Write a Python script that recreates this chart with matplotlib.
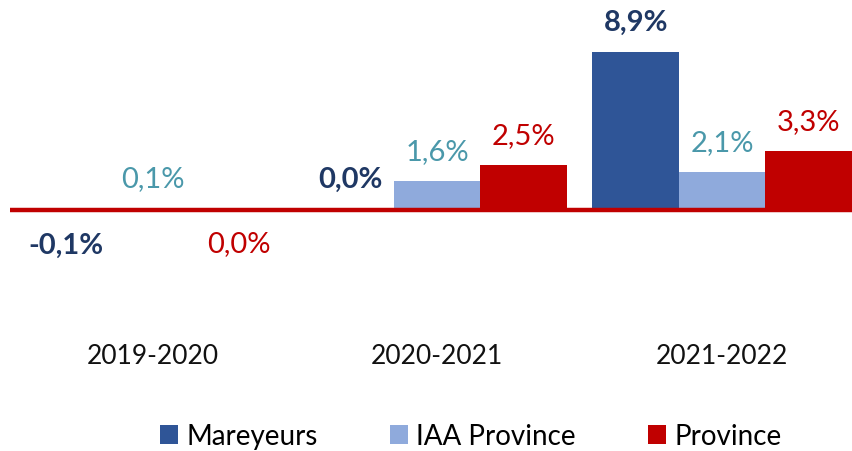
import matplotlib

matplotlib.use("Agg")
import matplotlib.pyplot as plt

plt.rcParams["font.family"] = ["Lato", "DejaVu Sans"]

periods = ["2019-2020", "2020-2021", "2021-2022"]
series = ["Mareyeurs", "IAA Province", "Province"]
mareyeurs = [-0.1, 0.02, 8.9]
iaa_province = [0.1, 1.6, 2.1]
province = [-0.02, 2.5, 3.3]

bar_colors = ["#2F5597", "#8FAADC", "#C00000"]
label_colors = ["#1F3864", "#4A98AA", "#C00000"]
label_weights = ["bold", "normal", "normal"]

W, H = 853, 452
fig = plt.figure(figsize=(W / 100, H / 100), dpi=100)
# axes placed in pixels: zero line at y=210.5, 17.7 px per percent point
ax = fig.add_axes([10 / W, 1 - 343 / H, 854.5 / W, 338 / H])
ppu = 17.7
ax.set_ylim(-(343 - 210.5) / ppu, (210.5 - 5) / ppu)
ax.set_xlim(-0.5, 2.5)

bw = 0.3035
handles = []
for i, (name, vals) in enumerate(zip(series, [mareyeurs, iaa_province, province])):
    xs = [k + (i - 1) * bw for k in range(len(periods))]
    b = ax.bar(xs, vals, width=bw, color=bar_colors[i], label=name, zorder=2)
    handles.append(b)
    for x, v in zip(xs, vals):
        txt = f"{round(v, 1):.1f}".replace("-0.0", "0.0").replace(".", ",") + "%"
        ax.annotate(
            txt,
            (x, v),
            xytext=(0, 21.6 if v >= 0 else -24),
            textcoords="offset points",
            ha="center",
            va="center",
            fontsize=21,
            color=label_colors[i],
            fontweight=label_weights[i],
        )

ax.axhline(0, color="#C00000", lw=3.2, zorder=3)
ax.set_xticks(range(len(periods)))
ax.set_xticklabels(periods, fontsize=19, color="#111111")
ax.tick_params(axis="x", length=0, pad=1)
ax.set_yticks([])
for s in ax.spines.values():
    s.set_visible(False)

fig.legend(
    handles,
    series,
    loc="center",
    bbox_to_anchor=(471 / W, 1 - 437 / H),
    ncol=3,
    frameon=False,
    fontsize=20,
    handlelength=0.65,
    handleheight=0.65,
    handletextpad=0.3,
    columnspacing=2.6,
)

fig.savefig("out.png", dpi=100)
